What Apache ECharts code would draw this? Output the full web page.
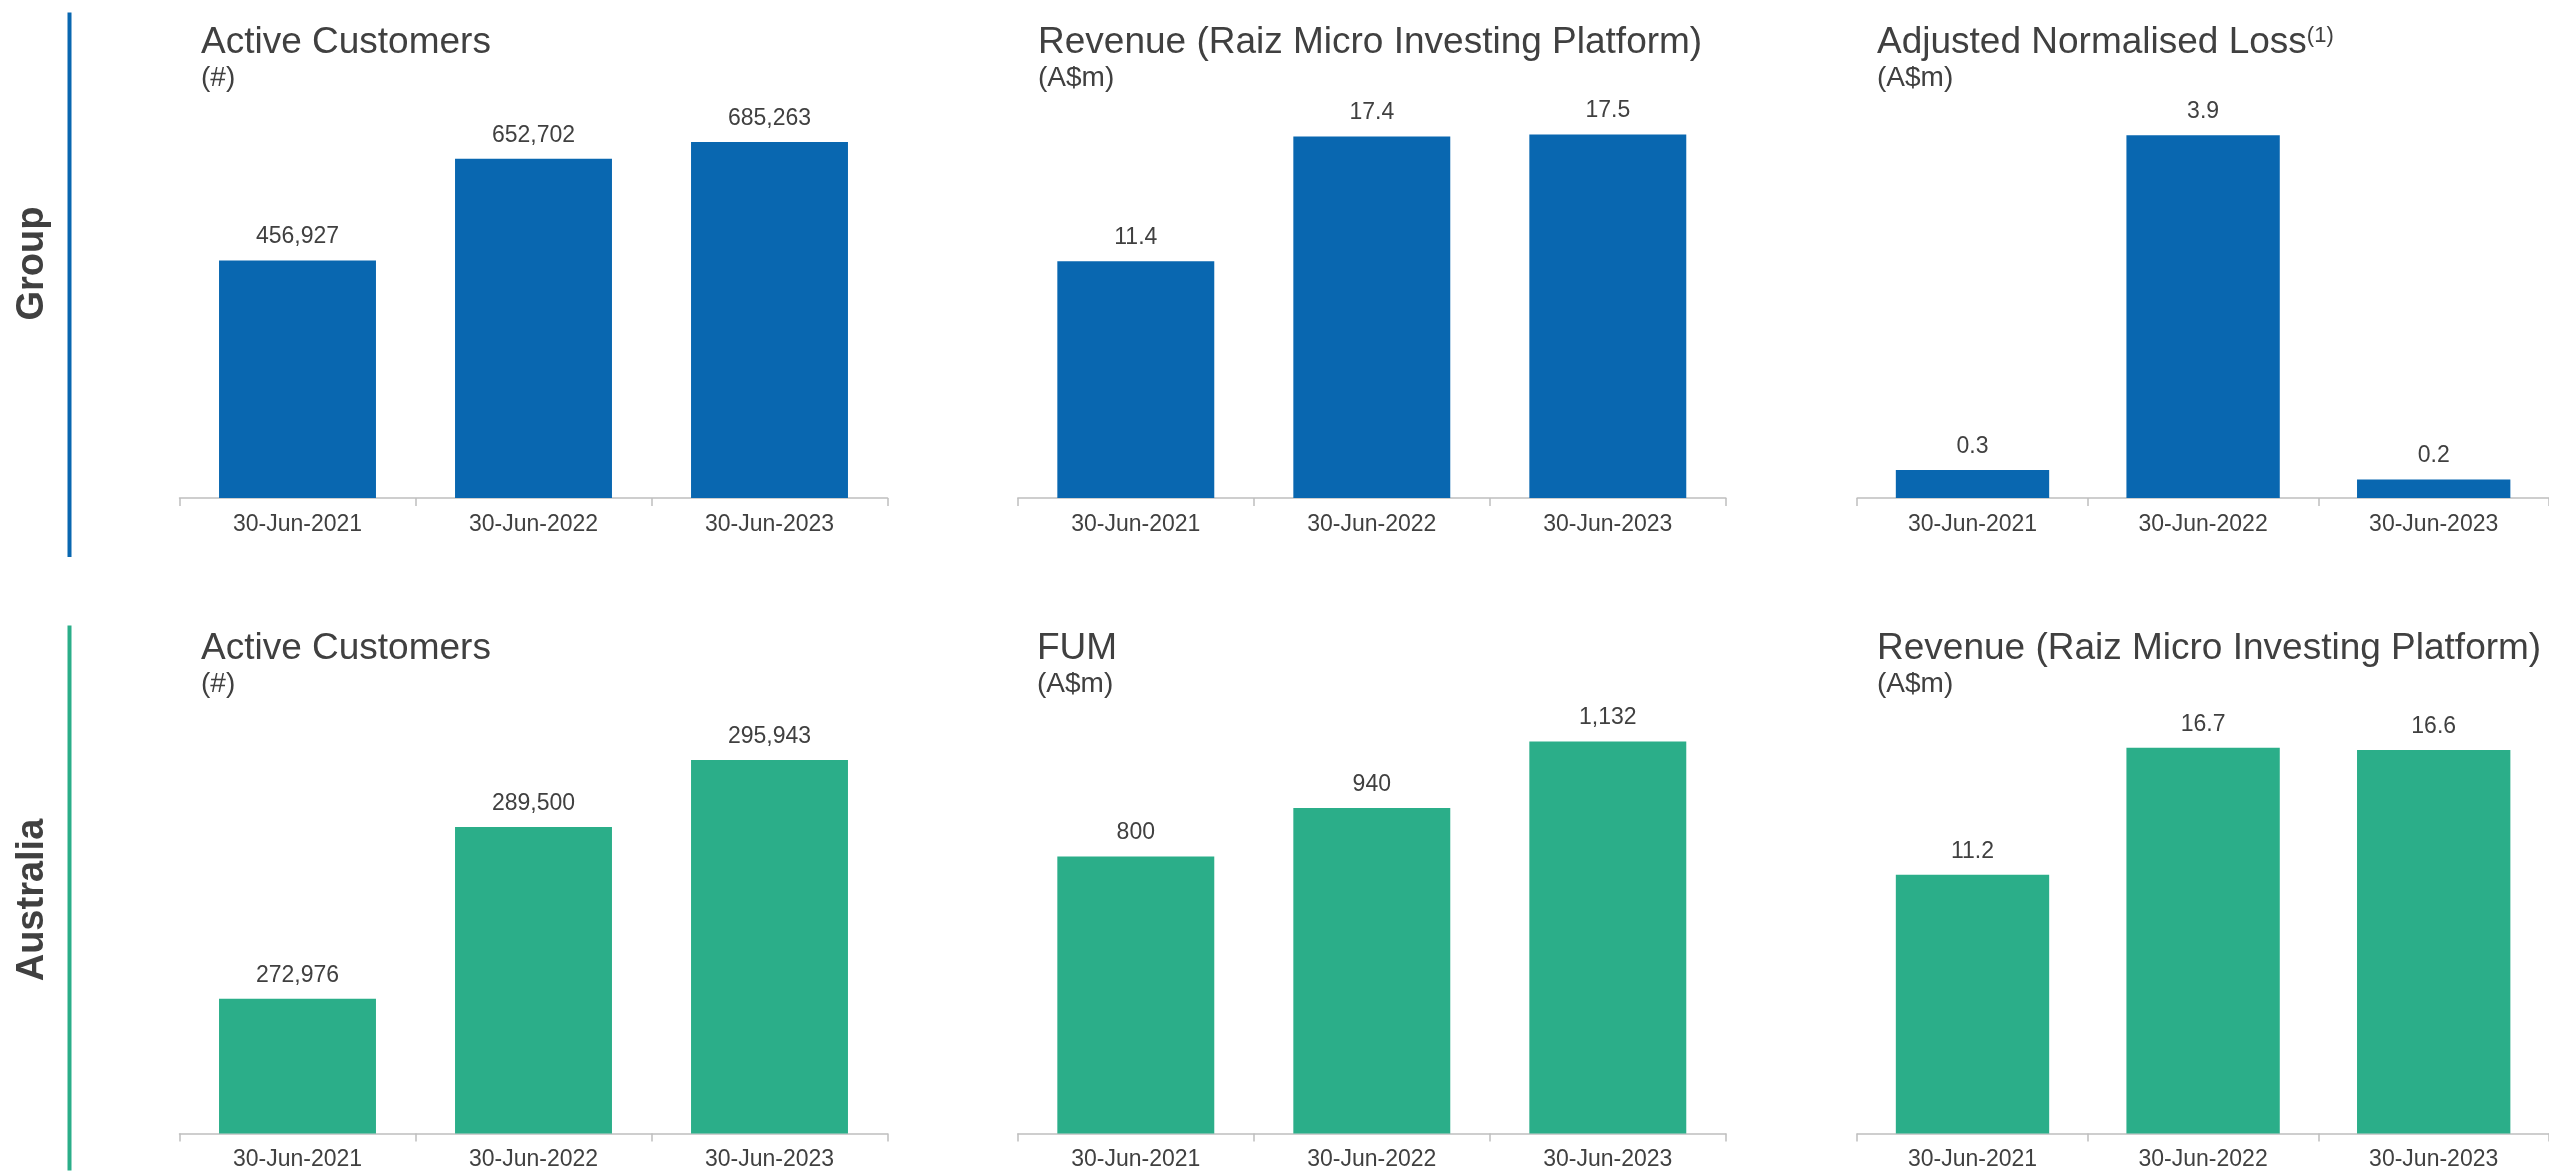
<!DOCTYPE html>
<html>
<head>
<meta charset="utf-8">
<script src="https://cdn.jsdelivr.net/npm/echarts@6/dist/echarts.min.js"></script>
<style>
html,body{margin:0;padding:0;background:#fff;}
#chart{width:2549px;height:1173px;}
</style>
</head>
<body>
<div id="chart"></div>
<script>
// ---- data ----
const categories = ['30-Jun-2021', '30-Jun-2022', '30-Jun-2023'];
const groupActiveCustomers = [456927, 652702, 685263];
const groupRevenue = [11.4, 17.4, 17.5];
const groupAdjustedLoss = [0.3, 3.9, 0.2];
const ausActiveCustomers = [272976, 289500, 295943];
const ausFum = [800, 940, 1132];
const ausRevenue = [11.2, 16.7, 16.6];

const rowLabels = ['Group', 'Australia'];
const titles = [
  ['Active Customers', '(#)'],
  ['Revenue (Raiz Micro Investing Platform)', '(A$m)'],
  ['Adjusted Normalised Loss{sup|(1)}', '(A$m)'],
  ['Active Customers', '(#)'],
  ['FUM', '(A$m)'],
  ['Revenue (Raiz Micro Investing Platform)', '(A$m)']
];

// ---- styling ----
const BLUE = '#0967B0';
const GREEN = '#2BAE89';
const TEXT = '#404040';
const AXIS = '#BFBFBF';
const FONT = 'Liberation Sans, Arial, sans-serif';

function fmt(v, dec) {
  return Number(v).toLocaleString('en-US', {minimumFractionDigits: dec, maximumFractionDigits: dec});
}

const panels = [
  {data: groupActiveCustomers, dec: 0, color: BLUE, left: 179.5, top: 100, height: 398, min: 0, max: 766000},
  {data: groupRevenue, dec: 1, color: BLUE, left: 1017.8, top: 100, height: 398, min: 0, max: 19.16},
  {data: groupAdjustedLoss, dec: 1, color: BLUE, left: 1857.2, top: 100, height: 398, min: 0, max: 4.28},
  {data: ausActiveCustomers, dec: 0, color: GREEN, left: 179.5, top: 700, height: 433.5, min: 260000, max: 301730},
  {data: ausFum, dec: 0, color: GREEN, left: 1017.8, top: 700, height: 433.5, min: 0, max: 1252},
  {data: ausRevenue, dec: 1, color: GREEN, left: 1857.2, top: 700, height: 433.5, min: 0, max: 18.77}
];
const titleLeft = [201, 1038, 1877, 201, 1037, 1877];
const titleTop = [24.5, 24.5, 24.5, 630, 630, 630];

const chart = echarts.init(document.getElementById('chart'), null, {renderer: 'canvas'});

const option = {
  backgroundColor: '#ffffff',
  animation: false,
  title: titles.map((t, i) => ({
    text: t[0],
    subtext: t[1],
    left: titleLeft[i],
    top: titleTop[i],
    padding: 0,
    itemGap: 2.8,
    textStyle: {
      fontFamily: FONT, fontSize: 37, fontWeight: 'normal', color: TEXT, lineHeight: 37,
      rich: {
        sup: {fontFamily: FONT, fontSize: 22, color: TEXT, verticalAlign: 'top', lineHeight: 22}
      }
    },
    subtextStyle: {fontFamily: FONT, fontSize: 28, color: TEXT, lineHeight: 28}
  })),
  grid: panels.map(p => ({left: p.left, top: p.top, width: 708, height: p.height, containLabel: false})),
  xAxis: panels.map((p, i) => ({
    type: 'category',
    gridIndex: i,
    data: categories,
    boundaryGap: true,
    axisLine: {show: true, lineStyle: {color: AXIS, width: 1.5}},
    axisTick: {show: true, length: 8, alignWithLabel: false, lineStyle: {color: AXIS, width: 1.5}},
    axisLabel: {fontFamily: FONT, fontSize: 23, color: TEXT, margin: 15}
  })),
  yAxis: panels.map((p, i) => ({
    type: 'value',
    gridIndex: i,
    min: p.min,
    max: p.max,
    show: false,
    splitLine: {show: false}
  })),
  series: panels.map((p, i) => ({
    type: 'bar',
    xAxisIndex: i,
    yAxisIndex: i,
    data: p.data,
    barWidth: '66.5%',
    itemStyle: {color: p.color},
    label: {
      show: true,
      position: 'top',
      distance: 12,
      fontFamily: FONT,
      fontSize: 23,
      color: TEXT,
      formatter: (d) => fmt(d.value, p.dec)
    }
  })),
  graphic: [
    {type: 'rect', left: 67.5, top: 12.5, shape: {width: 4, height: 544.5}, style: {fill: BLUE}},
    {type: 'rect', left: 67.5, top: 625.5, shape: {width: 4, height: 545}, style: {fill: GREEN}},
    {type: 'text', x: 33, y: 263.5, rotation: Math.PI / 2,
      style: {text: rowLabels[0], font: 'bold 38px ' + FONT, fill: TEXT, textAlign: 'center', textVerticalAlign: 'middle'}},
    {type: 'text', x: 33, y: 900, rotation: Math.PI / 2,
      style: {text: rowLabels[1], font: 'bold 38px ' + FONT, fill: TEXT, textAlign: 'center', textVerticalAlign: 'middle'}}
  ]
};
chart.setOption(option);
</script>
</body>
</html>
